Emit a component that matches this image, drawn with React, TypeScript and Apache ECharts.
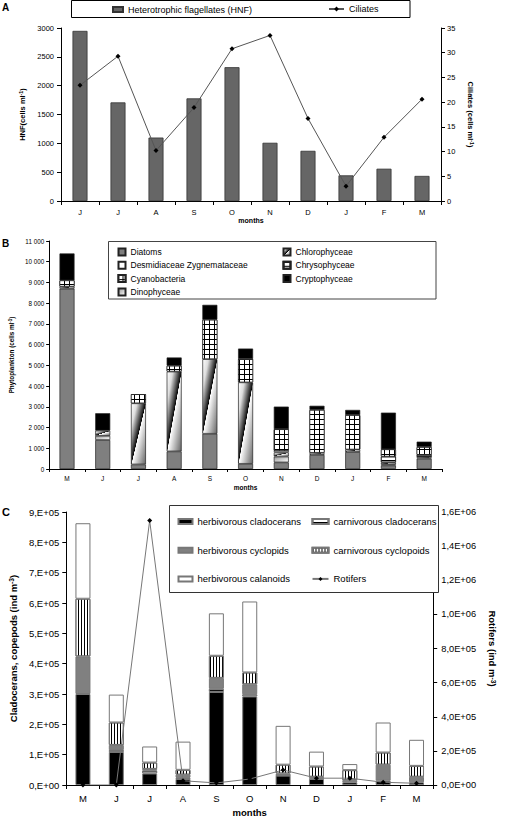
import React, { useEffect, useRef } from 'react';
import * as echarts from 'echarts';

// ---------- Panel A ----------
const monthsA = ['J', 'J', 'A', 'S', 'O', 'N', 'D', 'J', 'F', 'M'];
const hnf = [2950, 1710, 1100, 1780, 2320, 1010, 870, 445, 560, 435];
const ciliates = [23.4, 29.3, 10.2, 18.9, 30.8, 33.5, 16.7, 3.0, 12.9, 20.6];

// ---------- Panel B ----------
const monthsB = ['M', 'J', 'J', 'A', 'S', 'O', 'N', 'D', 'J', 'F', 'M'];
const diatoms = [8700, 1400, 220, 850, 1700, 250, 320, 680, 820, 170, 500];
const dinophyceae = [0, 200, 0, 0, 0, 0, 280, 0, 0, 50, 0];
const chlorophyceae = [100, 250, 2950, 3850, 3600, 3930, 200, 100, 120, 100, 80];
const desmidiaceae = [0, 0, 0, 0, 0, 0, 80, 0, 0, 0, 0];
const chrysophyceae = [0, 0, 0, 0, 0, 0, 0, 0, 0, 280, 100];
const cyanobacteria = [300, 0, 440, 280, 1900, 1130, 1040, 2070, 1660, 350, 380];
const cryptophyceae = [1300, 840, 0, 400, 720, 500, 1090, 200, 250, 1770, 260];

// ---------- Panel C ----------
const monthsC = ['M', 'J', 'J', 'A', 'S', 'O', 'N', 'D', 'J', 'F', 'M'];
const herbClad = [300000, 109000, 38000, 20000, 307000, 292000, 31000, 20000, 9000, 14000, 9000];
const carnClad = [0, 6000, 9000, 5000, 10000, 7000, 2000, 0, 0, 0, 0];
const herbCyc = [124000, 17000, 6000, 9000, 36000, 33000, 5000, 7000, 7000, 53000, 18000];
const carnCyc = [190000, 74000, 21000, 16000, 73000, 39000, 29000, 34000, 33000, 40000, 36000];
const herbCal = [249000, 92000, 53000, 93000, 140000, 234000, 128000, 49000, 20000, 99000, 86000];
const rotifers = [0, 0, 1550000, 25000, 12000, 35000, 88000, 40000, 40000, 16000, 10000];

const FONT = '"Liberation Sans", Arial, Helvetica, sans-serif';

const nz = (arr: number[]) => arr.map((v) => (v === 0 ? null : v));

function nameStyle(size: number) {
  return {
    fontFamily: FONT,
    fontSize: size,
    fontWeight: 'bold' as const,
    color: '#000',
    rich: {
      sup: {
        fontFamily: FONT,
        fontSize: size * 0.7,
        fontWeight: 'bold' as const,
        color: '#000',
        verticalAlign: 'top' as const,
      },
    },
  };
}

const axisLine = { show: true, lineStyle: { color: '#000', width: 1 } };
const tick = (len: number) => ({
  show: true,
  length: len,
  alignWithLabel: false,
  interval: 0,
  lineStyle: { color: '#000', width: 1 },
});
const lbl = (size: number, margin: number, formatter?: any) => ({
  fontFamily: FONT,
  fontSize: size,
  color: '#000',
  margin,
  interval: 0,
  ...(formatter ? { formatter } : {}),
});
const plain = (v: number) => String(v);

function buildOption() {
  const chloroGrad = new echarts.graphic.LinearGradient(0, 0, 1, 1, [
    { offset: 0, color: '#ffffff' },
    { offset: 0.2, color: '#dddddd' },
    { offset: 0.49, color: '#111111' },
    { offset: 0.5, color: '#000000' },
    { offset: 0.515, color: '#ffffff' },
    { offset: 1, color: '#666666' },
  ]);
  const dinoGrad = new echarts.graphic.LinearGradient(0, 0, 1, 1, [
    { offset: 0, color: '#999999' },
    { offset: 1, color: '#ffffff' },
  ]);

  const bBorder = { borderColor: '#222', borderWidth: 0.7 };
  const cBorder = { borderColor: '#777', borderWidth: 1 };

  const bSeries = (name: string, data: number[], itemStyle: any) => ({
    type: 'bar',
    name,
    xAxisIndex: 1,
    yAxisIndex: 2,
    stack: 'phyto',
    barWidth: 15,
    data: nz(data),
    itemStyle: { ...bBorder, ...itemStyle },
  });
  const cSeries = (name: string, data: number[], itemStyle: any) => ({
    type: 'bar',
    name,
    xAxisIndex: 2,
    yAxisIndex: 3,
    stack: 'zoo',
    barWidth: 15,
    data: nz(data),
    itemStyle: { ...cBorder, ...itemStyle },
  });

  return {
    animation: false,
    backgroundColor: '#fff',
    textStyle: { fontFamily: FONT },
    grid: [
      { left: 61, top: 28, width: 380, height: 173 },
      { left: 40, top: 241, width: 402, height: 228 },
      { left: 54, top: 512, width: 393, height: 274 },
    ],
    xAxis: [
      {
        gridIndex: 0, type: 'category', data: monthsA,
        axisLine, axisTick: tick(4), axisLabel: lbl(7.5, 7),
        name: 'months', nameLocation: 'middle', nameGap: 16, nameTextStyle: nameStyle(7),
      },
      {
        gridIndex: 1, type: 'category', data: monthsB,
        axisLine, axisTick: tick(3), axisLabel: lbl(6.5, 6),
        name: 'months', nameLocation: 'middle', nameGap: 15, nameTextStyle: nameStyle(6.5),
      },
      {
        gridIndex: 2, type: 'category', data: monthsC,
        axisLine, axisTick: tick(4), axisLabel: lbl(9.5, 8),
        name: 'months', nameLocation: 'middle', nameGap: 22, nameTextStyle: nameStyle(9.5),
      },
    ],
    yAxis: [
      {
        gridIndex: 0, type: 'value', position: 'left', min: 0, max: 3000, interval: 500,
        axisLine, axisTick: tick(4), axisLabel: lbl(7.5, 7, plain), splitLine: { show: false },
        name: 'HNF(cells ml{sup|-1})', nameLocation: 'middle', nameRotate: 90, nameGap: 27,
        nameTextStyle: nameStyle(7.5),
      },
      {
        gridIndex: 0, type: 'value', position: 'right', min: 0, max: 35, interval: 5,
        axisLine, axisTick: tick(4), axisLabel: lbl(7.5, 6, plain), splitLine: { show: false },
        name: 'Ciliates (cells ml{sup|-1})', nameLocation: 'middle', nameRotate: -90, nameGap: 21,
        nameTextStyle: nameStyle(7.5),
      },
      {
        gridIndex: 1, type: 'value', position: 'left', min: 0, max: 11000, interval: 1000,
        axisLine, axisTick: tick(3), splitLine: { show: false },
        axisLabel: lbl(6.3, 5, (v: number) => String(v).replace(/\B(?=(\d{3})+(?!\d))/g, ' ')),
        name: 'Phytoplankton (cells ml{sup|-1})', nameLocation: 'middle', nameRotate: 90, nameGap: 29,
        nameTextStyle: nameStyle(6.3),
      },
      {
        gridIndex: 2, type: 'value', position: 'left', min: 0, max: 900000, interval: 100000,
        axisLine, axisTick: tick(4), splitLine: { show: false },
        axisLabel: lbl(9.5, 7, (v: number) => (v === 0 ? '0,E+00' : `${Math.round(v / 100000)},E+05`)),
        name: 'Cladocerans, copepods (ind m{sup|-3})', nameLocation: 'middle', nameRotate: 90, nameGap: 41,
        nameTextStyle: nameStyle(9.5),
      },
      {
        gridIndex: 2, type: 'value', position: 'right', min: 0, max: 1600000, interval: 200000,
        axisLine, axisTick: tick(4), splitLine: { show: false },
        axisLabel: lbl(9.3, 8, (v: number) =>
          v === 0
            ? '0,0E+00'
            : v >= 1000000
            ? (v / 1000000).toFixed(1).replace('.', ',') + 'E+06'
            : (v / 100000).toFixed(1).replace('.', ',') + 'E+05'),
        name: 'Rotifers (ind m{sup|-3})', nameLocation: 'middle', nameRotate: -90, nameGap: 46,
        nameTextStyle: nameStyle(9.5),
      },
    ],
    legend: [
      {
        data: [{ name: 'Heterotrophic flagellates (HNF)', icon: 'rect' }],
        left: 112, top: 5, padding: 0, itemWidth: 10, itemHeight: 5, selectedMode: false,
        textStyle: { fontFamily: FONT, fontSize: 9, color: '#000' },
      },
      {
        data: ['Ciliates'],
        left: 328, top: 4.5, padding: 0, itemWidth: 15, itemHeight: 6, selectedMode: false,
        textStyle: { fontFamily: FONT, fontSize: 9, color: '#000' },
      },
      {
        orient: 'vertical',
        data: ['Diatoms', 'Desmidiaceae Zygnemataceae', 'Cyanobacteria', 'Dinophyceae'].map((n) => ({ name: n, icon: 'rect' })),
        left: 117.5, top: 247.5, padding: 0, itemWidth: 7, itemHeight: 7, itemGap: 4.3, selectedMode: false,
        textStyle: { fontFamily: FONT, fontSize: 8.5, lineHeight: 9, color: '#000' },
      },
      {
        orient: 'vertical',
        data: ['Chlorophyceae', 'Chrysophyceae', 'Cryptophyceae'].map((n) => ({ name: n, icon: 'rect' })),
        left: 282.5, top: 247.5, padding: 0, itemWidth: 7, itemHeight: 7, itemGap: 4.3, selectedMode: false,
        textStyle: { fontFamily: FONT, fontSize: 8.5, lineHeight: 9, color: '#000' },
      },
      {
        orient: 'vertical',
        data: ['herbivorous cladocerans', 'herbivorous cyclopids', 'herbivorous calanoids'].map((n) => ({ name: n, icon: 'rect' })),
        left: 177.5, top: 516.5, padding: 0, itemWidth: 14, itemHeight: 5, itemGap: 18.7, selectedMode: false,
        textStyle: { fontFamily: FONT, fontSize: 9.5, lineHeight: 10, color: '#000' },
      },
      {
        orient: 'vertical',
        data: [
          { name: 'carnivorous cladocerans', icon: 'rect' },
          { name: 'carnivorous cyclopoids', icon: 'rect' },
          { name: 'Rotifers' },
        ],
        left: 311.5, top: 516.5, padding: 0, itemWidth: 16, itemHeight: 5, itemGap: 18.7, selectedMode: false,
        textStyle: { fontFamily: FONT, fontSize: 9.5, lineHeight: 10, color: '#000' },
      },
    ],
    graphic: [
      { type: 'rect', z: 1, shape: { x: 71.5, y: 0.5, width: 338.5, height: 17 }, style: { fill: '#fff', stroke: '#000', lineWidth: 1 } },
      { type: 'rect', z: 1, shape: { x: 108.5, y: 241.5, width: 327.5, height: 57.5 }, style: { fill: '#fff', stroke: '#444', lineWidth: 1 } },
      { type: 'rect', z: 1, shape: { x: 169.5, y: 505.5, width: 269, height: 87 }, style: { fill: '#fff', stroke: '#333', lineWidth: 1 } },
      { type: 'text', left: 2, top: 2, style: { text: 'A', font: `bold 10px ${FONT}`, fill: '#000' } },
      { type: 'text', left: 2, top: 238, style: { text: 'B', font: `bold 10px ${FONT}`, fill: '#000' } },
      { type: 'text', left: 2, top: 506, style: { text: 'C', font: `bold 11px ${FONT}`, fill: '#000' } },
    ],
    series: [
      {
        type: 'bar', name: 'Heterotrophic flagellates (HNF)', xAxisIndex: 0, yAxisIndex: 0,
        data: hnf, barWidth: 15,
        itemStyle: { color: '#666', borderColor: '#333', borderWidth: 0.8 },
      },
      {
        type: 'line', name: 'Ciliates', xAxisIndex: 0, yAxisIndex: 1, data: ciliates,
        symbol: 'diamond', symbolSize: 5,
        lineStyle: { color: '#555', width: 1 }, itemStyle: { color: '#000' },
      },
      bSeries('Diatoms', diatoms, { color: '#7f7f7f' }),
      bSeries('Dinophyceae', dinophyceae, { color: dinoGrad }),
      bSeries('Chlorophyceae', chlorophyceae, { color: chloroGrad }),
      bSeries('Desmidiaceae Zygnemataceae', desmidiaceae, { color: '#fff' }),
      bSeries('Chrysophyceae', chrysophyceae, {
        color: '#fff',
        decal: { symbol: 'rect', symbolSize: 1, color: '#000', dashArrayX: [1, 0], dashArrayY: [1, 2.5] },
      }),
      bSeries('Cyanobacteria', cyanobacteria, {
        color: '#000',
        decal: { symbol: 'rect', symbolSize: 1, color: '#fff', dashArrayX: [4, 1], dashArrayY: [4, 1] },
      }),
      bSeries('Cryptophyceae', cryptophyceae, { color: '#000' }),
      cSeries('herbivorous cladocerans', herbClad, { color: '#000' }),
      cSeries('carnivorous cladocerans', carnClad, {
        color: '#fff',
        decal: { symbol: 'rect', symbolSize: 1, color: '#000', dashArrayX: [1, 0], dashArrayY: [1, 1.5] },
      }),
      cSeries('herbivorous cyclopids', herbCyc, { color: '#808080' }),
      cSeries('carnivorous cyclopoids', carnCyc, {
        color: '#fff',
        decal: { symbol: 'rect', symbolSize: 1, color: '#000', dashArrayX: [1, 2], dashArrayY: [1, 0] },
      }),
      cSeries('herbivorous calanoids', herbCal, { color: '#fff' }),
      {
        type: 'line', name: 'Rotifers', xAxisIndex: 2, yAxisIndex: 4, data: rotifers,
        symbol: 'diamond', symbolSize: 5, z: 5,
        lineStyle: { color: '#777', width: 1 }, itemStyle: { color: '#000' },
      },
    ],
  };
}

export default function App() {
  const ref = useRef<HTMLDivElement>(null);
  useEffect(() => {
    if (!ref.current) return;
    const chart = echarts.init(ref.current, null, { renderer: 'svg' });
    chart.setOption(buildOption() as any);
    return () => chart.dispose();
  }, []);
  return (
    <div
      ref={ref}
      style={{ position: 'absolute', left: 0, top: 0, width: 505, height: 818, background: '#fff' }}
    />
  );
}
